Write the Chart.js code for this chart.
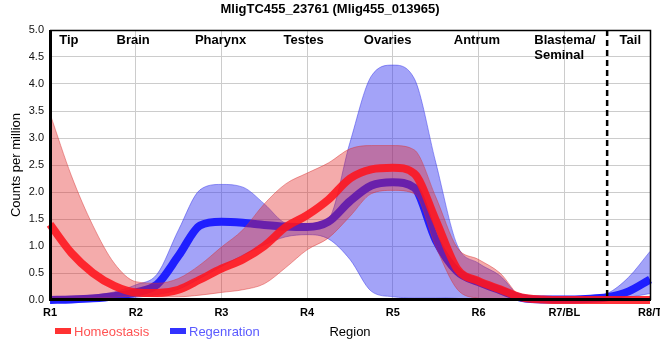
<!DOCTYPE html>
<html lang="en">
<head>
<meta charset="UTF-8">
<title>MligTC455_23761 (Mlig455_013965)</title>
<script src="https://cdn.jsdelivr.net/npm/chart.js@4.4.0/dist/chart.umd.min.js"></script>
<style>
    html, body { margin: 0; padding: 0; background: #fff; }
    canvas { display: block; }
</style>
</head>
<body>
<canvas id="chart" width="660" height="360"></canvas>
<script>
    const chartTitle = 'MligTC455_23761 (Mlig455_013965)';
    const tickLabels = ['R1', 'R2', 'R3', 'R4', 'R5', 'R6', 'R7/BL', 'R8/T'];
    const regions = ['Tip', 'Brain', 'Pharynx', 'Testes', 'Ovaries', 'Antrum', 'Blastema/\nSeminal', 'Tail'];

    // sample positions along the region axis (R1 = 0 ... R8/T = 7)
    const xs = [0, 0.25, 0.5, 0.75, 1, 1.25, 1.5, 1.75, 2, 2.25, 2.5, 2.75, 3, 3.25, 3.5,
                3.75, 4, 4.25, 4.5, 4.75, 5, 5.25, 5.5, 5.75, 6, 6.25, 6.5, 6.75, 7];

    const homeo     = [1.40, 0.87, 0.50, 0.26, 0.14, 0.13, 0.19, 0.38, 0.58, 0.75, 1.00, 1.35, 1.57, 1.86, 2.25,
                       2.42, 2.45, 2.34, 1.48, 0.58, 0.35, 0.20, 0.05, 0.01, 0, 0, 0, 0, 0];
    const homeoHigh = [3.45, 2.30, 1.38, 0.68, 0.34, 0.31, 0.40, 0.65, 0.98, 1.30, 1.78, 2.15, 2.35, 2.54, 2.80,
                       2.86, 2.86, 2.78, 1.91, 0.97, 0.75, 0.50, 0.06, 0.01, 0, 0, 0, 0, 0];
    const homeoLow  = [0.03, 0.03, 0.04, 0.05, 0.07, 0.06, 0.06, 0.09, 0.14, 0.19, 0.30, 0.60, 0.93, 1.15, 1.55,
                       1.97, 2.03, 1.97, 0.99, 0.20, 0.03, 0, 0, 0, 0, 0, 0, 0, 0];

    const regen     = [0.00, 0.01, 0.03, 0.07, 0.14, 0.29, 0.82, 1.38, 1.45, 1.43, 1.39, 1.36, 1.35, 1.45, 1.83,
                       2.12, 2.18, 2.08, 1.11, 0.53, 0.33, 0.18, 0.04, 0.01, 0.01, 0.02, 0.05, 0.16, 0.38];
    const regenHigh = [0.06, 0.07, 0.09, 0.15, 0.28, 0.48, 1.30, 2.04, 2.14, 2.09, 1.78, 1.42, 1.37, 1.50, 2.92,
                       4.15, 4.35, 4.10, 2.55, 1.02, 0.68, 0.45, 0.06, 0.02, 0.02, 0.05, 0.12, 0.42, 0.90];
    const regenLow  = [0.00, 0.00, 0.00, 0.02, 0.05, 0.10, 0.20, 0.40, 0.62, 0.83, 1.02, 1.17, 1.21, 1.13, 0.75,
                       0.16, 0.06, 0.04, 0.04, 0.03, 0, 0, 0, 0, 0, 0, 0.01, 0.05, 0.12];

    const FONT = "'Liberation Sans', Arial, sans-serif";
    Chart.defaults.font.family = FONT;

    const pts = ys => xs.map((x, i) => ({ x: x, y: ys[i] }));

    const line = (label, data, color, order, legendRect, legendText) => ({
        label, data: pts(data), borderColor: color, borderWidth: 8, pointRadius: 0,
        cubicInterpolationMode: 'monotone', fill: false, clip: false, order,
        legendRect, legendText
    });
    const band = (label, data, fillColor, edgeColor, fill, order) => ({
        label, data: pts(data), borderColor: edgeColor, backgroundColor: fillColor, borderWidth: 1,
        pointRadius: 0, cubicInterpolationMode: 'monotone', fill, order
    });

    // where the region names and divider sit, in axis units
    const regionAt = [0.22, 0.97, 1.99, 2.96, 3.94, 4.98, 5.65, 6.77];
    const dividerAt = 6.5;

    const overlay = {
        id: 'overlay',
        afterDatasetsDraw(chart) {
            const { ctx, chartArea: a, scales: { x } } = chart;
            ctx.save();
            ctx.strokeStyle = '#000';

            // dashed divider before the tail
            const dx = x.getPixelForValue(dividerAt);
            ctx.lineWidth = 2.5;
            ctx.setLineDash([6, 4]);
            ctx.beginPath();
            ctx.moveTo(dx, a.top);
            ctx.lineTo(dx, a.bottom);
            ctx.stroke();
            ctx.setLineDash([]);

            // frame: thin top/right, heavy left/bottom
            ctx.lineWidth = 1.5;
            ctx.beginPath();
            ctx.moveTo(a.left, a.top + 0.5);
            ctx.lineTo(a.right + 0.5, a.top + 0.5);
            ctx.lineTo(a.right + 0.5, a.bottom);
            ctx.stroke();
            ctx.lineWidth = 3;
            ctx.beginPath();
            ctx.moveTo(a.left + 0.5, a.top);
            ctx.lineTo(a.left + 0.5, a.bottom - 0.5);
            ctx.lineTo(a.right + 1, a.bottom - 0.5);
            ctx.stroke();

            // region names along the top
            ctx.fillStyle = '#000';
            ctx.font = 'bold 13px ' + FONT;
            ctx.textBaseline = 'alphabetic';
            regions.forEach((name, i) => {
                const lines = name.split('\n');
                const px = x.getPixelForValue(regionAt[i]);
                ctx.textAlign = lines.length > 1 ? 'left' : 'center';
                lines.forEach((t, j) => ctx.fillText(t, px, a.top + 14 + j * 15));
            });
            ctx.restore();
        },
        afterDraw(chart) {
            const { ctx } = chart;
            ctx.save();
            ctx.fillStyle = '#000';
            ctx.font = 'bold 13px ' + FONT;
            ctx.textAlign = 'center';
            ctx.textBaseline = 'alphabetic';
            ctx.fillText(chartTitle, 330, 13);

            // legend for the two series
            ctx.font = '13px ' + FONT;
            ctx.textAlign = 'left';
            let lx = 55;
            chart.data.datasets.filter(d => d.legendRect).forEach(d => {
                ctx.fillStyle = d.legendRect;
                ctx.fillRect(lx, 328, 16, 6);
                ctx.fillStyle = d.legendText;
                ctx.fillText(d.label, lx + 19, 336);
                lx += 115;
            });
            ctx.restore();
        }
    };

    new Chart(document.getElementById('chart'), {
        type: 'line',
        data: {
            datasets: [
                line('Homeostasis', homeo, 'rgba(255,20,30,0.88)', 1, '#ff3232', '#ff5252'),
                band('Homeostasis high', homeoHigh, 'rgba(225,35,35,0.38)', 'rgba(215,50,50,0.45)', '+1', 2),
                band('Homeostasis low', homeoLow, 'rgba(225,35,35,0.38)', 'rgba(215,50,50,0.45)', false, 2),
                line('Regenration', regen, '#1f1fff', 3, '#3232ff', '#5a5aff'),
                band('Regenration high', regenHigh, 'rgba(50,50,240,0.45)', 'rgba(60,60,235,0.5)', '+1', 4),
                band('Regenration low', regenLow, 'rgba(50,50,240,0.45)', 'rgba(60,60,235,0.5)', false, 4)
            ]
        },
        options: {
            responsive: false,
            animation: false,
            layout: { padding: { top: 30, right: 10, bottom: 0, left: 0 } },
            plugins: {
                legend: { display: false },
                title: { display: false },
                tooltip: { enabled: false }
            },
            scales: {
                x: {
                    type: 'linear',
                    min: 0,
                    max: 7,
                    grid: { color: '#cccccc', drawTicks: false },
                    border: { display: false },
                    ticks: {
                        stepSize: 1,
                        padding: 6,
                        autoSkip: false,
                        maxRotation: 0,
                        color: '#000',
                        font: { size: 11, weight: 'bold' },
                        callback: v => tickLabels[v] ?? ''
                    },
                    title: {
                        display: true,
                        text: 'Region',
                        color: '#000',
                        font: { size: 13 },
                        padding: { top: 0, bottom: 20 }
                    },
                    afterFit: s => { s.height = 60; s.paddingLeft = 0; s.paddingRight = 0; }
                },
                y: {
                    min: 0,
                    max: 5,
                    grid: { color: '#cccccc', drawTicks: false },
                    border: { display: false },
                    ticks: {
                        stepSize: 0.5,
                        padding: 6,
                        color: '#111',
                        font: { size: 11 },
                        callback: v => v.toFixed(1)
                    },
                    title: {
                        display: true,
                        text: 'Counts per million',
                        color: '#000',
                        font: { size: 13 },
                        padding: { top: 9, bottom: 0 }
                    },
                    afterFit: s => { s.width = 50; s.paddingTop = 0; s.paddingBottom = 0; }
                }
            }
        },
        plugins: [overlay]
    });
</script>
</body>
</html>
